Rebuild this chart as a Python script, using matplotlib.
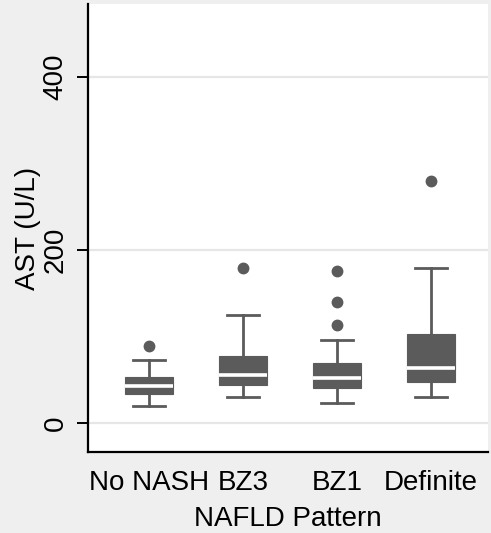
import matplotlib
matplotlib.use("Agg")
import matplotlib.pyplot as plt

plt.rcParams['font.family'] = ['Liberation Sans', 'DejaVu Sans']

categories = ["No NASH", "BZ3", "BZ1", "Definite"]
whislo = [20, 30, 23, 30]
q1 = [33.5, 44, 41, 47]
med = [43, 56, 51.5, 63.5]
q3 = [53, 78, 69.5, 103]
whishi = [73, 125, 96, 179]
fliers = [[88.5], [179], [113.5, 140, 176], [279.5]]
yticks = [0, 200, 400]

box_color = "#5b5b5b"
fs = 20

fig = plt.figure(figsize=(4.91, 5.33), dpi=100, facecolor="#efefef")
ax = fig.add_axes([88/491, 81/533, 400/491, 448/533])
ax.set_facecolor("white")

stats = []
for i, c in enumerate(categories):
    stats.append(dict(label=c, whislo=whislo[i], q1=q1[i], med=med[i],
                      q3=q3[i], whishi=whishi[i], fliers=fliers[i]))

ax.bxp(stats, positions=range(1, len(categories) + 1), widths=0.51,
       capwidths=0.34, patch_artist=True, showfliers=True,
       boxprops=dict(facecolor=box_color, edgecolor=box_color, linewidth=0.8),
       medianprops=dict(color="white", linewidth=2.6),
       whiskerprops=dict(color=box_color, linewidth=2.0),
       capprops=dict(color=box_color, linewidth=2.0),
       flierprops=dict(marker='o', markerfacecolor=box_color,
                       markeredgecolor=box_color, markersize=7.5))

ax.set_xlim(0.351, 4.606)
ax.set_ylim(-33.5, 484.4)
ax.set_yticks(yticks)
ax.set_yticklabels([str(t) for t in yticks], rotation=90, va='center', fontsize=fs)
ax.yaxis.grid(True, color="#e6e6e6", linewidth=1.6)
ax.set_axisbelow(True)

ax.set_xticks(range(1, len(categories) + 1))
ax.set_xticklabels(categories, fontsize=fs)
ax.tick_params(axis='x', length=0, pad=13)
ax.tick_params(axis='y', length=8, width=1.4, pad=6, colors='black')

ax.set_xlabel("NAFLD Pattern", fontsize=fs, labelpad=7)
ax.set_ylabel("AST (U/L)", fontsize=fs)
ax.yaxis.set_label_coords(-0.118, 0.5)

for side in ["top", "right"]:
    ax.spines[side].set_visible(False)
for side in ["left", "bottom"]:
    ax.spines[side].set_linewidth(1.6)
    ax.spines[side].set_color("black")

fig.savefig("out.png", dpi=100, facecolor=fig.get_facecolor())
